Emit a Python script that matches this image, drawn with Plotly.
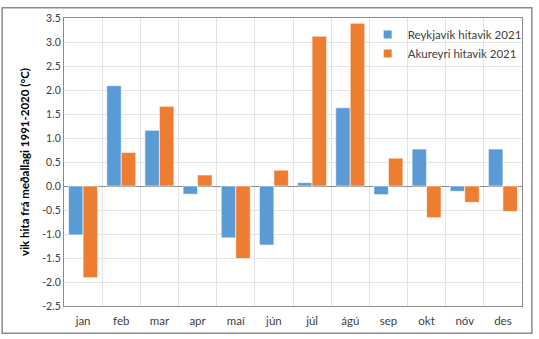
import plotly.graph_objects as go

months = ["jan", "feb", "mar", "apr", "maí", "jún", "júl", "ágú", "sep", "okt", "nóv", "des"]
reykjavik = [-1.02, 2.09, 1.16, -0.17, -1.08, -1.23, 0.07, 1.63, -0.18, 0.77, -0.11, 0.77]
akureyri = [-1.91, 0.70, 1.66, 0.23, -1.51, 0.33, 3.12, 3.39, 0.58, -0.66, -0.34, -0.53]
yticks = [-2.5, -2.0, -1.5, -1.0, -0.5, 0.0, 0.5, 1.0, 1.5, 2.0, 2.5, 3.0, 3.5]
names = ["Reykjavík hitavik 2021", "Akureyri hitavik 2021"]
colors = ["#5B9BD5", "#ED7D31"]

W, H = 539, 339
L, R, T, B = 64, 12, 12, 30
pw, ph = W - L - R, H - T - B

fig = go.Figure()
for vals, name, col in zip([reykjavik, akureyri], names, colors):
    fig.add_trace(go.Bar(x=months, y=vals, name=name, showlegend=False,
                         marker=dict(color=col, line=dict(color="#ffffff", width=0.6))))
# legend entries with small square markers
for name, col in zip(names, colors):
    fig.add_trace(go.Scatter(x=[None], y=[None], mode="markers", name=name,
                             marker=dict(symbol="square", size=8, color=col)))

fig.update_layout(
    width=W, height=H,
    margin=dict(l=L, r=R, t=T, b=B),
    paper_bgcolor="white", plot_bgcolor="white",
    barmode="group", bargap=0.24, bargroupgap=0,
    font=dict(family="Lato, Calibri, sans-serif", size=11, color="#404040"),
    legend=dict(x=(371 - L) / pw, y=(H - B - 14) / ph, xanchor="left", yanchor="top",
                bgcolor="rgba(0,0,0,0)", font=dict(size=11.5, color="#404040"),
                itemwidth=30, tracegroupgap=0),
    showlegend=True,
)
fig.update_xaxes(
    type="category", tickson="boundaries", showgrid=True, gridcolor="#e3e3e3", gridwidth=1,
    ticks="", showline=True, linecolor="#8c8c8c", linewidth=1.3, mirror=True,
    tickfont=dict(size=11.5, color="#404040"), ticklabelstandoff=4,
)
fig.update_yaxes(
    range=[-2.5, 3.5], tickvals=yticks, ticktext=[f"{v:.1f}" for v in yticks],
    showgrid=True, gridcolor="#e3e3e3", gridwidth=1,
    zeroline=True, zerolinecolor="#8c8c8c", zerolinewidth=1,
    showline=True, linecolor="#8c8c8c", linewidth=1.3, mirror=True, ticks="",
    tickfont=dict(size=10.5, color="#404040"),
    title=dict(text="vik hita frá meðallagi 1991-2020 (°C)",
               font=dict(size=11.5, color="#000000", family="Lato, sans-serif", weight="bold"),
               standoff=10),
)
# outer border around the whole chart
fig.add_shape(type="rect", xref="paper", yref="paper",
              x0=(1.5 - L) / pw, x1=(W - 2 - L) / pw,
              y0=(H - B - (H - 2)) / ph, y1=(H - B - 1.5) / ph,
              line=dict(color="#8c8c8c", width=1.5), fillcolor="rgba(0,0,0,0)", layer="below")

fig.write_html("out.html")
